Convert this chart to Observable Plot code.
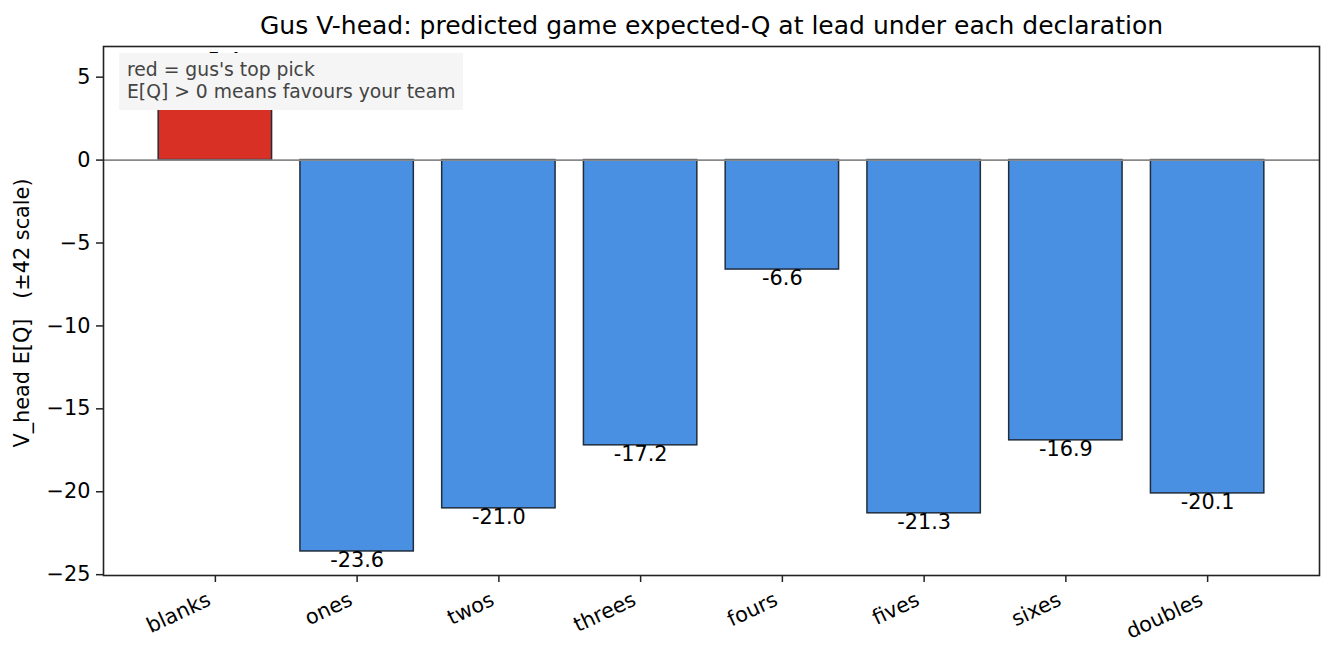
<!DOCTYPE html>
<html>
<head>
<meta charset="utf-8">
<script src="https://cdn.jsdelivr.net/npm/d3@7"></script>
<script src="https://cdn.jsdelivr.net/npm/@observablehq/plot@0.6"></script>
<style>
  html, body { margin: 0; padding: 0; background: #fff; }
  #wrap { position: relative; width: 1334px; height: 658px; font-family: "DejaVu Sans", sans-serif; }
  #legend { position: absolute; left: 119px; top: 53px; width: 344px; height: 57px; background: #f5f5f5;
            color: #444; font-size: 18.75px; line-height: 22px; padding: 6px 0 0 8px; box-sizing: border-box; white-space: nowrap; }
</style>
</head>
<body>
<div id="wrap"></div>
<script>
const categories = ["blanks", "ones", "twos", "threes", "fours", "fives", "sixes", "doubles"];
const values = [5.4, -23.6, -21.0, -17.2, -6.6, -21.3, -16.9, -20.1];
const topPick = "blanks";
const yTicks = [-25, -20, -15, -10, -5, 0, 5];
const titleText = "Gus V-head: predicted game expected-Q at lead under each declaration";
const yLabel = "V_head E[Q]   (±42 scale)";
const legendLines = ["red = gus's top pick", "E[Q] > 0 means favours your team"];

const data = categories.map((c, i) => ({cat: c, v: values[i], top: c === topPick}));
const pos = data.filter(d => d.v >= 0);
const neg = data.filter(d => d.v < 0);
const fmt = v => (v >= 0 ? "+" : "-") + Math.abs(v).toFixed(1);

const chart = Plot.plot({
  width: 1334,
  height: 658,
  marginTop: 46,
  marginBottom: 83,
  marginLeft: 103,
  marginRight: 15,
  style: {fontFamily: "DejaVu Sans, sans-serif", fontSize: "20.8px", color: "#000", background: "#fff"},
  x: {domain: categories, paddingInner: 0.2, paddingOuter: 0.1, insetLeft: 41, insetRight: 41, round: false, label: null},
  y: {domain: [-25.05, 6.85], label: null},
  marks: [
    Plot.barY(data, {x: "cat", y: "v", fill: d => d.top ? "#d93025" : "#4a90e2", stroke: "#1f2d3d", strokeWidth: 1.5}),
    Plot.ruleY([0], {stroke: "#888", strokeWidth: 1.8}),
    Plot.text(pos, {x: "cat", y: "v", text: d => fmt(d.v), lineAnchor: "bottom", dy: -3, fontSize: 20.8, fill: "#000"}),
    Plot.text(neg, {x: "cat", y: "v", text: d => fmt(d.v), lineAnchor: "top", dy: 1, fontSize: 20.8, fill: "#000"}),
    Plot.frame({stroke: "#222", strokeWidth: 1.6}),
    Plot.axisY({ticks: yTicks, tickSize: 7, tickPadding: 6, fontSize: 20.8, stroke: "#222", strokeWidth: 1.5, tickFormat: d => d < 0 ? "\u2212" + Math.abs(d) : String(d), label: null}),
    Plot.axisX({tickSize: 7, tickFormat: () => "", stroke: "#222", strokeWidth: 1.5, label: null}),
    Plot.axisX({tickSize: 0, tickPadding: 13, tickRotate: -25, textAnchor: "end", fontSize: 20.8, dx: -6, dy: 10, label: null}),
    Plot.text([titleText], {frameAnchor: "top", dy: -21, lineAnchor: "middle", fontSize: 25, fill: "#000", text: d => d}),
    Plot.text([yLabel], {frameAnchor: "left", dx: -81, dy: 2, rotate: -90, textAnchor: "middle", lineAnchor: "middle", fontSize: 20.8, fill: "#000", text: d => d})
  ]
});

const wrap = document.getElementById("wrap");
wrap.appendChild(chart);
const legend = document.createElement("div");
legend.id = "legend";
legend.innerHTML = legendLines.map(l => `<div>${l.replace(/>/g, "&gt;")}</div>`).join("");
wrap.appendChild(legend);
</script>
</body>
</html>
